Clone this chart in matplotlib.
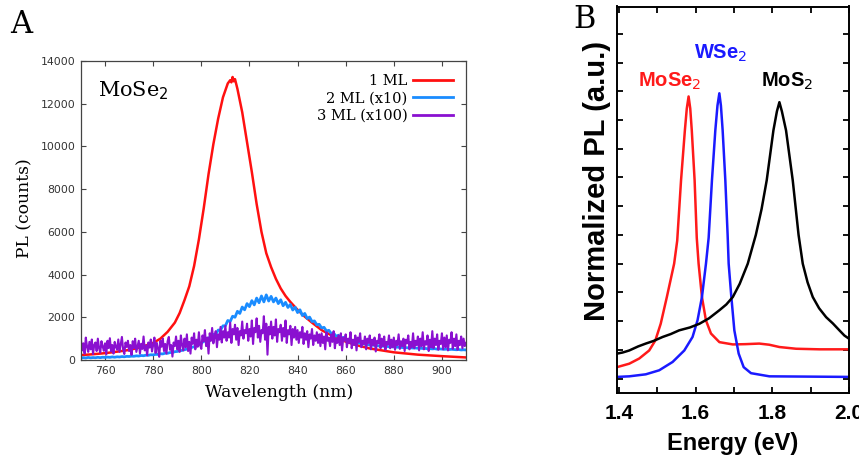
import numpy as np
import matplotlib
matplotlib.use("Agg")
from matplotlib import pyplot as plt

# ---------------- panel A data (MoSe2 PL vs wavelength) ----------------
wl_1ml = [750, 755, 760, 765, 770, 775, 780, 783, 786, 789, 791, 793, 795, 797, 799,
          801, 803, 805, 807, 809, 811, 812, 812.5, 813, 813.5, 814, 815, 817,
          819, 821, 823, 825, 827, 829, 831, 833, 835, 837, 840, 843, 846, 850, 855,
          860, 865, 870, 880, 890, 900, 910]
pl_1ml = [230, 270, 320, 390, 470, 600, 800, 1000, 1320, 1750, 2200, 2800, 3450, 4400,
          5650, 7100, 8700, 10100, 11300, 12300, 12950, 13100, 13000, 13250, 13050,
          13150, 12700, 11600, 10200, 8800, 7300, 6000, 5000, 4350, 3800, 3350, 3000,
          2720, 2350, 2030, 1750, 1400, 1100, 860, 680, 540, 360, 250, 180, 120]

wl_2ml = np.arange(750, 911)
pl_2ml = [90, 110, 95, 120, 100, 115, 105, 125, 110, 130,
          120, 135, 125, 145, 130, 150, 140, 160, 150, 170,
          165, 180, 175, 195, 185, 210, 200, 225, 220, 245,
          240, 265, 260, 290, 285, 320, 315, 350, 350, 390,
          400, 430, 450, 480, 510, 540, 590, 620, 680, 720,
          780, 880, 870, 1040, 1020, 1200, 1190, 1400, 1400, 1600,
          1600, 1850, 1800, 2050, 2000, 2280, 2180, 2480, 2350, 2640,
          2500, 2780, 2580, 2900, 2680, 3000, 2720, 3050, 2760, 2980,
          2720, 2900, 2640, 2820, 2540, 2700, 2460, 2600, 2340, 2470,
          2220, 2350, 2080, 2180, 1940, 2010, 1800, 1830, 1650, 1670,
          1500, 1530, 1360, 1390, 1240, 1260, 1110, 1160, 1010, 1060,
          960, 940, 890, 870, 830, 820, 780, 770, 740, 730,
          700, 700, 680, 670, 660, 650, 640, 640, 620, 620,
          610, 600, 600, 590, 580, 580, 570, 570, 560, 560,
          550, 550, 540, 540, 530, 530, 520, 530, 510, 520,
          510, 500, 510, 490, 500, 490, 480, 490, 470, 480, 470]

wl_3ml = np.arange(750, 910.01, 0.5)
pl_3ml = [900, 450, 780, 300, 1050, 620, 380, 850, 500, 960, 280, 700, 820, 420, 1000, 550, 350, 880, 640, 430,
          780, 260, 900, 560, 1020, 400, 700, 300, 850, 620, 480, 960, 380, 740, 1080, 500, 280, 820, 610, 900,
          420, 700, 240, 880, 560, 1000, 380, 650, 900, 300, 760, 520, 1100, 450, 680, 220, 820, 580, 960, 400,
          700, 1050, 330, 800, 560, 150, 900, 620, 1000, 420, 750, 300, 880, 1080, 480, 700, 160, 820, 650, 1100,
          500, 900, 380, 1150, 700, 450, 1000, 600, 1200, 420, 850, 300, 1050, 760, 1250, 500, 950, 620, 1300, 700,
          520, 1150, 880, 1400, 650, 1050, 300, 1250, 900, 1500, 780, 1100, 1350, 600, 1200, 950, 1550, 820, 1350, 1050,
          1600, 900, 1300, 1050, 1750, 800, 1450, 1200, 1650, 950, 1500, 700, 1350, 1150, 1800, 1000, 1400, 1250, 1700, 900,
          1450, 1100, 1850, 750, 1500, 1300, 1950, 1050, 1600, 850, 1400, 1250, 2050, 950, 1700, 250, 1550, 1200, 1800, 1000,
          1550, 1150, 1900, 850, 1450, 1300, 1650, 900, 1500, 1100, 1850, 800, 1400, 1200, 1600, 700, 1450, 1050, 1550, 950,
          1400, 800, 1300, 1050, 1550, 750, 1250, 950, 1350, 600, 1200, 1000, 1450, 700, 1150, 900, 1300, 800, 1200, 650,
          1250, 800, 1100, 500, 1300, 900, 1050, 650, 1200, 850, 1350, 550, 1000, 800, 1150, 700, 1250, 450, 1050, 900,
          1200, 600, 1000, 800, 1300, 550, 950, 700, 1150, 450, 1050, 850, 1250, 600, 900, 750, 1100, 500, 1000, 800,
          1150, 500, 950, 700, 1050, 400, 900, 780, 1200, 550, 1000, 650, 1100, 480, 850, 720, 1150, 550, 950, 600,
          1050, 480, 900, 700, 1200, 520, 880, 650, 1000, 420, 950, 780, 1150, 500, 850, 600, 1250, 550, 900, 700,
          1100, 450, 1000, 650, 1300, 500, 880, 720, 1150, 420, 950, 600, 1350, 550, 1000, 700, 1200, 480, 900, 750,
          1250, 500, 1050, 600, 1150, 450, 950, 800, 1300, 520, 1000, 650, 1200, 480, 900, 700, 1100, 550, 1000, 650,
          800]
labels_a = ["1 ML", "2 ML (x10)", "3 ML (x100)"]

# ---------------- panel B data (normalized PL vs energy) ----------------
e_mose2 = [1.395, 1.427, 1.453, 1.479, 1.495, 1.509, 1.525, 1.544, 1.552, 1.562,
           1.572, 1.577, 1.5817, 1.586, 1.590, 1.5974, 1.603, 1.6078, 1.6165,
           1.6269, 1.64, 1.662, 1.697, 1.73, 1.766, 1.792, 1.8185, 1.862, 1.923, 2.0]
pl_mose2 = [0.040, 0.052, 0.070, 0.098, 0.133, 0.191, 0.284, 0.400, 0.480, 0.690,
            0.864, 0.940, 0.982, 0.940, 0.864, 0.690, 0.490, 0.400, 0.284,
            0.203, 0.157, 0.127, 0.119, 0.120, 0.122, 0.118, 0.110, 0.104, 0.102, 0.102]

e_wse2 = [1.395, 1.427, 1.47, 1.505, 1.54, 1.5705, 1.592, 1.605, 1.6165, 1.627,
          1.634, 1.6426, 1.6514, 1.657, 1.6619, 1.666, 1.6705, 1.6775, 1.6835,
          1.6862, 1.6932, 1.701, 1.7123, 1.7253, 1.7444, 1.7924, 2.0]
pl_wse2 = [0.006, 0.008, 0.015, 0.029, 0.058, 0.098, 0.145, 0.203, 0.284, 0.400,
           0.490, 0.690, 0.864, 0.950, 0.993, 0.950, 0.864, 0.690, 0.500,
           0.400, 0.284, 0.168, 0.087, 0.040, 0.019, 0.008, 0.006]

e_mos2 = [1.395, 1.41, 1.427, 1.45, 1.47, 1.49, 1.514, 1.535, 1.557, 1.585, 1.61,
          1.635, 1.662, 1.68, 1.697, 1.715, 1.736, 1.757, 1.772, 1.7854, 1.8029,
          1.812, 1.8185, 1.825, 1.8358, 1.8533, 1.8685, 1.8794, 1.892, 1.9055,
          1.922, 1.9403, 1.958, 1.975, 1.988, 2.0]
pl_mos2 = [0.087, 0.091, 0.098, 0.112, 0.122, 0.131, 0.145, 0.155, 0.168, 0.178, 0.191,
           0.210, 0.238, 0.258, 0.284, 0.330, 0.400, 0.500, 0.590, 0.690, 0.864,
           0.930, 0.962, 0.930, 0.864, 0.690, 0.500, 0.400, 0.335, 0.284,
           0.245, 0.214, 0.192, 0.168, 0.150, 0.139]
labels_b = ["MoSe$_2$", "WSe$_2$", "MoS$_2$"]

W, H = 859, 461
fig = plt.figure(figsize=(W / 100, H / 100), dpi=100)

def box(l, t, r, b):
    # pixel box -> figure fraction [left, bottom, width, height]
    return [l / W, 1 - b / H, (r - l) / W, (b - t) / H]

# ---------------- panel A ----------------
ax = fig.add_axes(box(81, 61, 466, 360))
ax.plot(wl_1ml, pl_1ml, color="#ff1010", lw=1.8, label=labels_a[0])
ax.plot(wl_2ml, pl_2ml, color="#1a8cff", lw=2.0, label=labels_a[1])
ax.plot(wl_3ml, pl_3ml, color="#8a10d0", lw=1.5, label=labels_a[2])
ax.set_xlim(750, 910)
ax.set_ylim(0, 14000)
ax.set_xticks(range(760, 901, 20))
ax.set_yticks(range(0, 14001, 2000))
ax.tick_params(direction="in", length=3.5, width=0.8, top=True, right=True,
               labelsize=7.8, labelcolor="#333333", color="#444444", pad=4)
for s in ax.spines.values():
    s.set_color("#444444")
    s.set_linewidth(0.9)
leg = ax.legend(loc="upper right", bbox_to_anchor=(0.966, 0.957), markerfirst=False,
                frameon=False, borderpad=0, borderaxespad=0, handlelength=2.75,
                handletextpad=0.35, labelspacing=0.25,
                prop={"family": "DejaVu Serif", "size": 10.5})
for ln in leg.get_lines():
    ln.set_linewidth(2.0)
ax.text(0.044, 0.88, "MoSe$_2$", transform=ax.transAxes, fontsize=15,
        family="DejaVu Serif", va="baseline")
fig.text(25 / W, 1 - 208 / H, "PL (counts)", rotation=90, ha="center", va="center",
         family="DejaVu Serif", fontsize=12.3)
fig.text(279 / W, 1 - 392 / H, "Wavelength (nm)", ha="center", va="center",
         family="DejaVu Serif", fontsize=12.3)
fig.text(10 / W, 1 - 33 / H, "A", family="DejaVu Serif", fontsize=22, va="baseline")

# ---------------- panel B ----------------
bx = fig.add_axes(box(617, 6.5, 849, 393))
bx.plot(e_mose2, pl_mose2, color="#ff1a1a", lw=1.8)
bx.plot(e_wse2, pl_wse2, color="#1a1aff", lw=1.8)
bx.plot(e_mos2, pl_mos2, color="black", lw=1.8)
bx.set_xlim(1.395, 2.0)
bx.set_ylim(-0.05, 1.295)
bx.set_xticks(np.arange(1.4, 2.01, 0.1))
bx.set_xticklabels(["1.4", "", "1.6", "", "1.8", "", "2.0"])
bx.set_yticks(np.arange(0, 1.21, 0.1))
bx.set_yticklabels([])
bx.tick_params(direction="in", length=4, width=1.3, top=True, right=True, pad=8,
               labelsize=15)
for t in bx.get_xticklabels():
    t.set_fontweight("bold")
    t.set_family("Liberation Sans")
for s in bx.spines.values():
    s.set_linewidth(1.4)
bfont = {"family": "Liberation Sans", "weight": "bold"}
bx.text(1.449, 1.017, labels_b[0], color="#ff1a1a", fontsize=14.5, ha="left",
        va="baseline", **bfont)
bx.text(1.595, 1.114, labels_b[1], color="#1a1aff", fontsize=14.5, ha="left",
        va="baseline", **bfont)
bx.text(1.77, 1.017, labels_b[2], color="black", fontsize=14.5, ha="left",
        va="baseline", **bfont)
fig.text(733 / W, 1 - 443 / H, "Energy (eV)", ha="center", va="center",
         fontsize=17, **bfont)
fig.text(597 / W, 1 - 181 / H, "Normalized PL (a.u.)", rotation=90, ha="center",
         va="center", fontsize=21, **bfont)
fig.text(573 / W, 1 - 28 / H, "B", family="DejaVu Serif", fontsize=22, va="baseline")

fig.savefig("out.png", dpi=100)
